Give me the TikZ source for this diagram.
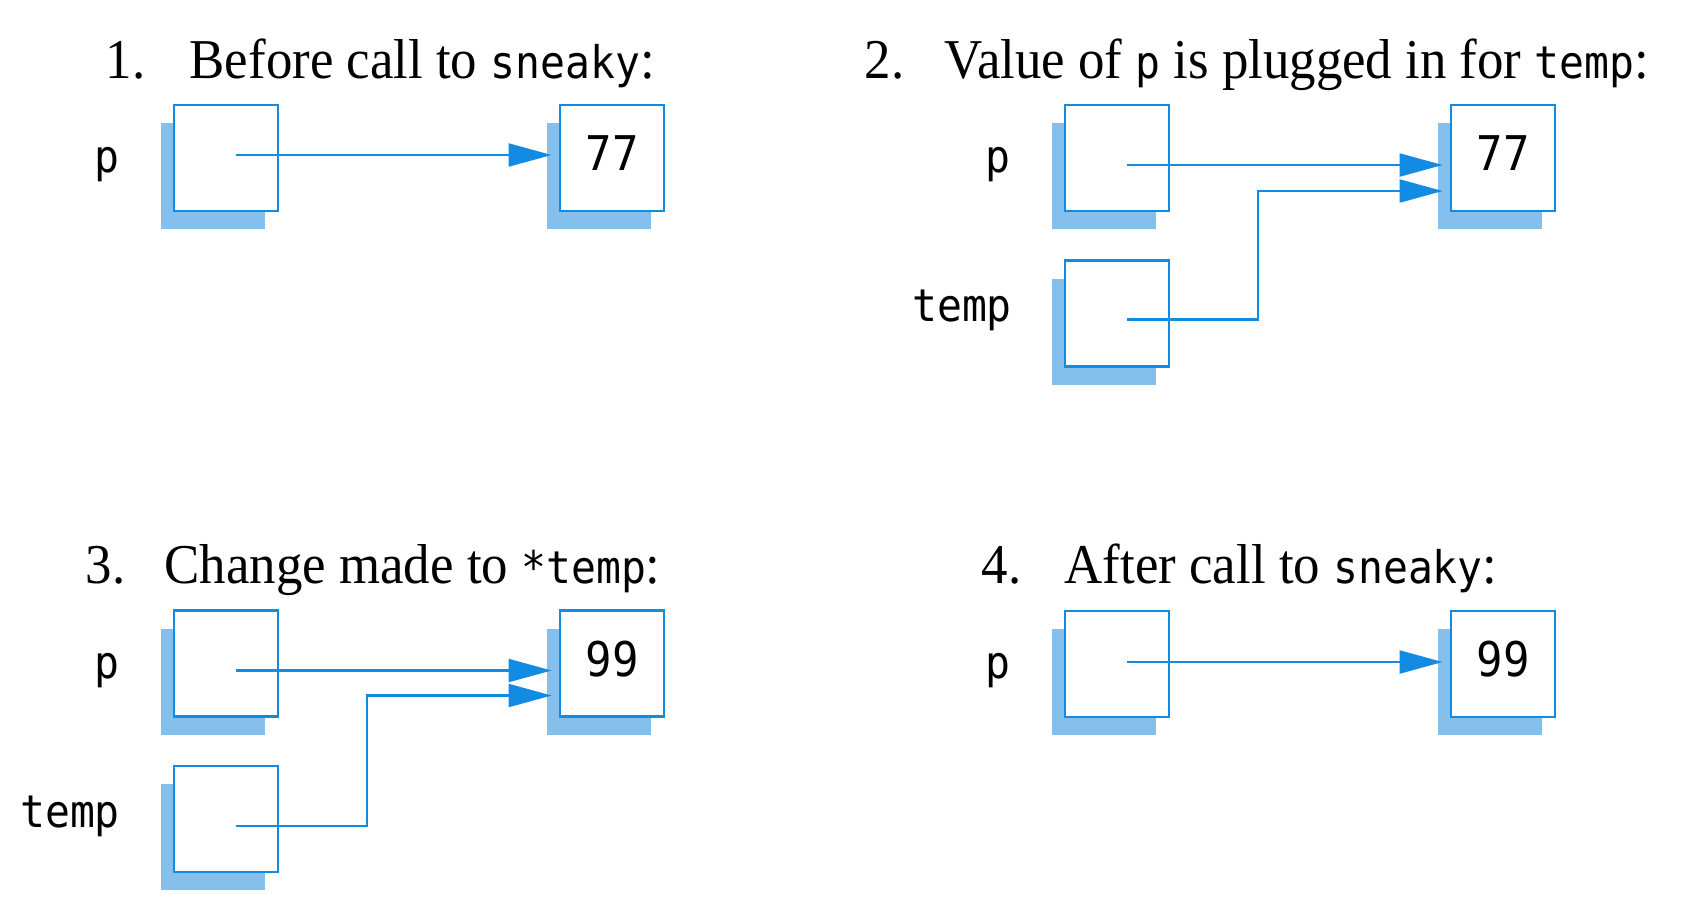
\documentclass[tikz,border=0pt]{standalone}
\usepackage{fontspec}
\setmainfont[FakeStretch=0.94]{Liberation Serif}
\setmonofont[Scale=0.8,FakeStretch=0.92]{DejaVu Sans Mono}
\usepackage{tikz}
\usetikzlibrary{arrows.meta,shadows,positioning}
\definecolor{boxblue}{RGB}{18,140,226}
\definecolor{shadeblue}{RGB}{133,192,236}
\tikzset{cell/.style={draw=boxblue,line width=0.8pt,fill=white,minimum width=1.04cm,minimum height=1.06cm,inner sep=0pt,
  general shadow={fill=shadeblue,shadow xshift=-1.3mm,shadow yshift=-1.8mm}}}
\tikzset{val/.style={cell,font=\fontsize{17}{20}\selectfont\ttfamily,text depth=1mm}}
\tikzset{lbl/.style={font=\fontsize{16}{19}\selectfont\ttfamily,inner sep=0pt}}
\tikzset{hd/.style={anchor=base west,inner sep=0pt,font=\fontsize{16}{19}\selectfont}}
\tikzset{ptr/.style={draw=boxblue,line width=0.6pt,-{Triangle[length=4.3mm,width=2.3mm]},shorten >=0.7mm}}

\begin{document}
\begin{tikzpicture}
\useasboundingbox (0,0) rectangle (17.04,-9.2);

% headings
\node[hd](h1) at (1.05,-0.78) {\makebox[8.4mm][l]{1.}Before call to \texttt{sneaky}:};
\node[hd](h2) at (8.64,-0.78) {\makebox[8mm][l]{2.}Value of \texttt{p} is plugged in for \texttt{temp}:};
\node[hd](h3) at (0.85,-5.835) {\makebox[7.9mm][l]{3.}Change made to \texttt{*temp}:};
\node[hd](h4) at (9.81,-5.835) {\makebox[8.3mm][l]{4.}After call to \texttt{sneaky}:};

% 1.
\node[cell](p1) at (2.26,-1.58) {};
\node[val](v1) at (6.12,-1.58) {77};
\node[lbl,left=5.2mm of p1,yshift=-0.7mm](lp1) {p};

% 2.
\node[cell](p2) at (11.17,-1.58) {};
\node[cell](t2) at (11.17,-3.135) {};
\node[val](v2) at (15.03,-1.58) {77};
\node[lbl,left=5.2mm of p2,yshift=-0.7mm](lp2) {p};
\node[lbl,left=5.1mm of t2,yshift=0.3mm](lt2) {temp};

% 3.
\node[cell](p3) at (2.26,-6.635) {};
\node[cell](t3) at (2.26,-8.19) {};
\node[val](v3) at (6.12,-6.635) {99};
\node[lbl,left=5.2mm of p3,yshift=-0.7mm](lp3) {p};
\node[lbl,left=5.2mm of t3,yshift=0.3mm](lt3) {temp};

% 4.
\node[cell](p4) at (11.17,-6.64) {};
\node[val](v4) at (15.03,-6.64) {99};
\node[lbl,left=5.2mm of p4,yshift=-0.7mm](lp4) {p};

\foreach \s/\t/\d in {p1/v1/0.3,p2/v2/-0.7,p3/v3/-0.7,p4/v4/0.2}
  \draw[ptr] ([xshift=1mm,yshift=\d mm]\s.center) -- ([yshift=\d mm]\t.west);

\draw[ptr] ([xshift=1mm,yshift=-0.6mm]t2.center) -- ++(1.31,0) |- ([yshift=-3.3mm]v2.west);
\draw[ptr] ([xshift=1mm,yshift=-0.7mm]t3.center) -- ++(1.31,0) |- ([yshift=-3.2mm]v3.west);
\end{tikzpicture}
\end{document}
